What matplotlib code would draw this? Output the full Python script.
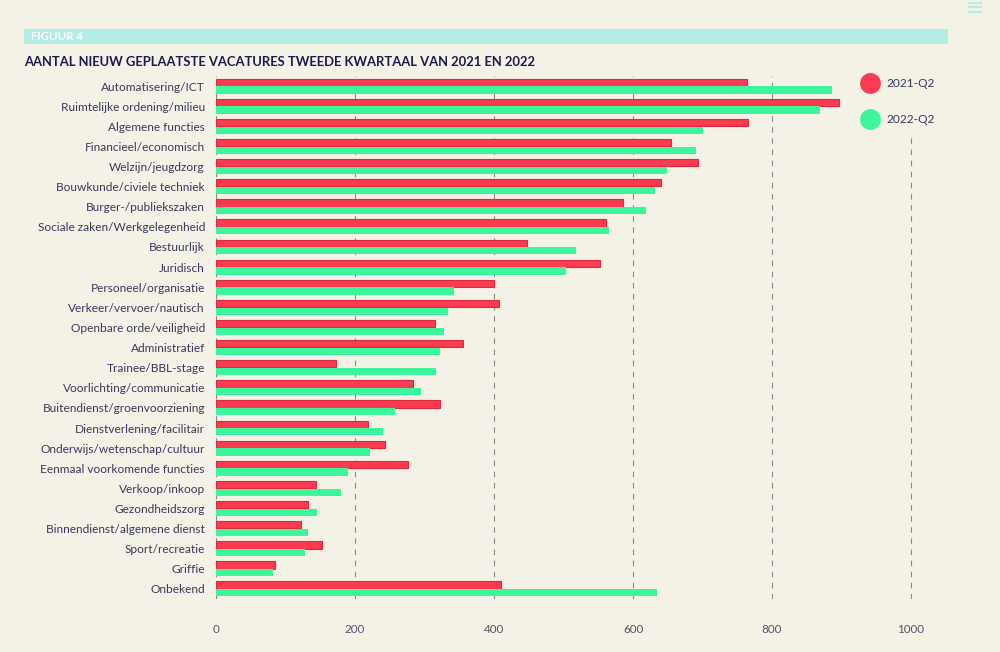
import matplotlib
matplotlib.use("Agg")
import matplotlib.pyplot as plt
from matplotlib.lines import Line2D
from matplotlib.patches import Rectangle
import numpy as np

plt.rcParams['font.family'] = ['Lato', 'DejaVu Sans']

BG = "#f4f1e7"
RED = "#fc3a50"
RED_EDGE = "#d92a3e"
GREEN = "#3df59b"
TEXT = "#3a3a5c"
TITLE = "#1d1b4c"

categories = [
    "Automatisering/ICT", "Ruimtelijke ordening/milieu", "Algemene functies",
    "Financieel/economisch", "Welzijn/jeugdzorg", "Bouwkunde/civiele techniek",
    "Burger-/publiekszaken", "Sociale zaken/Werkgelegenheid", "Bestuurlijk",
    "Juridisch", "Personeel/organisatie", "Verkeer/vervoer/nautisch",
    "Openbare orde/veiligheid", "Administratief", "Trainee/BBL-stage",
    "Voorlichting/communicatie", "Buitendienst/groenvoorziening",
    "Dienstverlening/facilitair", "Onderwijs/wetenschap/cultuur",
    "Eenmaal voorkomende functies", "Verkoop/inkoop", "Gezondheidszorg",
    "Binnendienst/algemene dienst", "Sport/recreatie", "Griffie", "Onbekend",
]
q2_2021 = [764, 897, 766, 654, 694, 641, 586, 561, 448, 553, 400, 407, 315,
           355, 172, 284, 322, 219, 243, 276, 144, 132, 122, 152, 85, 410]
q2_2022 = [886, 869, 701, 690, 649, 632, 619, 566, 518, 504, 343, 334, 328,
           322, 316, 295, 258, 240, 222, 190, 180, 145, 132, 128, 82, 634]
xticks = [0, 200, 400, 600, 800, 1000]

fig = plt.figure(figsize=(10, 6.52), dpi=100)
fig.patch.set_facecolor(BG)
ax = fig.add_axes([0.216, 0.0813, 0.7645, 0.8021])
ax.set_facecolor(BG)

y = np.arange(len(categories))
h = 0.36
ax.barh(y - 0.19, q2_2021, height=h, color=RED, edgecolor=RED_EDGE,
        linewidth=0.8, zorder=3, label="2021-Q2")
ax.barh(y + 0.19, q2_2022, height=h, color=GREEN, edgecolor="none",
        zorder=3, label="2022-Q2")

ax.set_xlim(0, 1100)
ax.set_ylim(len(categories) - 0.5, -0.5)
ax.set_yticks(y)
ax.set_yticklabels(categories, fontsize=8.6, color=TEXT)
ax.set_xticks(xticks)
ax.set_xticklabels([str(t) for t in xticks], fontsize=8.4, color="#55556a")
ax.tick_params(axis="both", length=0)
ax.tick_params(axis="y", pad=8)
ax.tick_params(axis="x", pad=18)
for s in ax.spines.values():
    s.set_visible(False)
ax.xaxis.grid(True, linestyle=(0, (5, 5)), color="#8a8a8a", linewidth=0.8, zorder=0)
ax.set_axisbelow(True)

handles = [
    Line2D([], [], marker="o", linestyle="none", markersize=15,
           markerfacecolor=RED, markeredgecolor="none"),
    Line2D([], [], marker="o", linestyle="none", markersize=15,
           markerfacecolor=GREEN, markeredgecolor="none"),
]
leg = ax.legend(handles, ["2021-Q2", "2022-Q2"], loc="upper left",
                bbox_to_anchor=(0.850, 0.901), bbox_transform=fig.transFigure,
                frameon=True, facecolor=BG, edgecolor="none", framealpha=1,
                fontsize=8.6, labelspacing=2.15, handletextpad=0.75,
                borderpad=0.6, handlelength=1.2)
for t in leg.get_texts():
    t.set_color(TEXT)
leg.set_zorder(5)

# header strip
fig.patches.append(Rectangle((0.024, 1 - 43.5 / 652), 0.924, 14.5 / 652,
                             transform=fig.transFigure, facecolor="#b2ede6",
                             edgecolor="none", zorder=0))
fig.text(0.031, 1 - 36.5 / 652, "FIGUUR 4", fontsize=8.3, fontweight="bold",
         color="white", va="center", ha="left")
fig.text(0.024, 1 - 62.5 / 652,
         "AANTAL NIEUW GEPLAATSTE VACATURES TWEEDE KWARTAAL VAN 2021 EN 2022",
         fontsize=9.35, fontweight="bold", color=TITLE, va="center", ha="left")

# small menu icon top right
for k in range(3):
    yy = 1 - (2.5 + k * 4.5) / 652
    fig.add_artist(Line2D([0.969, 0.981], [yy, yy], transform=fig.transFigure,
                          color="#b2ede6", linewidth=1.5))

fig.savefig("out.png", dpi=100, facecolor=BG)
